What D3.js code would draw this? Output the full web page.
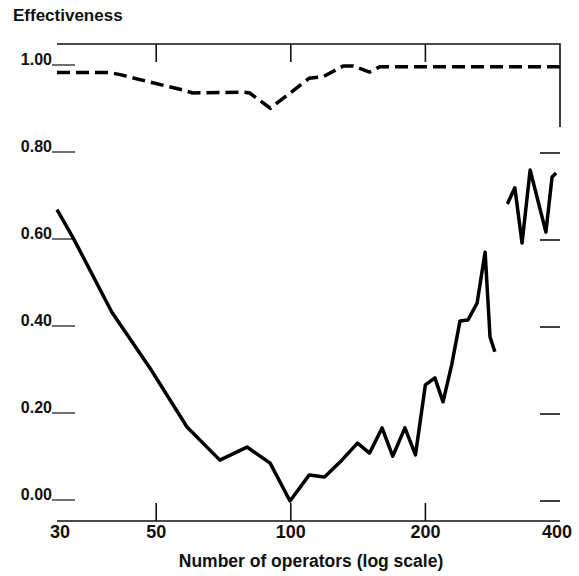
<!DOCTYPE html>
<html>
<head>
<meta charset="utf-8">
<script src="https://cdn.jsdelivr.net/npm/d3@7"></script>
<style>
  body { margin: 0; background: #fff; }
  text { font-family: "Liberation Sans", Arial, sans-serif; font-weight: bold; fill: #111; }
</style>
</head>
<body>
<svg></svg>
<script>
// upper dashed curve
const upperN   = [30, 39.4, 42, 48.4, 57.3, 60.3, 78.2, 80.9, 90, 110, 118, 131, 138, 150, 158, 400];
const upperEff = [0.985, 0.985, 0.979, 0.963, 0.945, 0.938, 0.940, 0.938, 0.903, 0.972, 0.975, 1.0, 1.0, 0.986, 0.998, 0.998];

// lower solid curve, first piece
const lowerN   = [30, 32.6, 39.8, 48.4, 58.6, 69.4, 79.8, 89.9, 99.6, 110, 119, 129, 141, 150, 160, 169, 180, 190, 200, 210, 219, 229, 239, 249, 261, 272, 279, 286];
const lowerEff = [0.67, 0.605, 0.434, 0.306, 0.17, 0.094, 0.124, 0.087, 0.0, 0.06, 0.055, 0.09, 0.133, 0.11, 0.168, 0.103, 0.168, 0.106, 0.267, 0.283, 0.228, 0.313, 0.414, 0.416, 0.455, 0.572, 0.377, 0.343];

// lower solid curve, second piece (after the gap)
const lowerN2   = [305, 317, 329, 343, 372, 384, 392];
const lowerEff2 = [0.683, 0.72, 0.593, 0.761, 0.618, 0.745, 0.754];

const xTicks = [30, 50, 100, 200, 400];
const xInner = [50, 100, 200];
const yTicks = [0, 0.2, 0.4, 0.6, 0.8, 1.0];
const yLabels = ["0.00", "0.20", "0.40", "0.60", "0.80", "1.00"];

const width = 579, height = 576;
const plotLeft = 57, plotRight = 560, plotTop = 44, plotBottom = 521;

const svg = d3.select('svg')
    .attr('width', width)
    .attr('height', height);

const x = d3.scaleLog().domain([30, 400]).range([plotLeft, plotRight]);
const y = d3.scaleLinear().domain([0, 1]).range([501, 66]);

const line = d3.line()
    .x(d => x(d[0]))
    .y(d => y(d[1]));

// frame: top, bottom and the short right piece
svg.append('path')
    .attr('d', `M${plotLeft},${plotTop}H${plotRight}V127M${plotLeft},${plotBottom}H${plotRight}`)
    .attr('fill', 'none')
    .attr('stroke', '#111')
    .attr('stroke-width', 1.6);

// ticks on top (pointing down) and bottom (pointing up)
svg.append('g')
    .selectAll('line')
    .data(xInner)
    .enter()
    .append('line')
    .attr('x1', d => x(d)).attr('x2', d => x(d))
    .attr('y1', plotTop).attr('y2', plotTop + 18)
    .attr('stroke', '#111').attr('stroke-width', 1.6);

svg.append('g')
    .selectAll('line')
    .data(xInner)
    .enter()
    .append('line')
    .attr('x1', d => x(d)).attr('x2', d => x(d))
    .attr('y1', plotBottom).attr('y2', plotBottom - 18)
    .attr('stroke', '#111').attr('stroke-width', 1.6);

// x tick labels
svg.append('g')
    .selectAll('text')
    .data(xTicks)
    .enter()
    .append('text')
    .attr('x', (d, i) => x(d) + (i == 0 ? 3 : (i == xTicks.length - 1 ? -3 : 0)))
    .attr('y', 538)
    .attr('text-anchor', 'middle')
    .style('font-size', '18px')
    .text(d => d);

// y ticks: label + short mark on the left, short mark on the right
svg.append('g')
    .selectAll('text')
    .data(yTicks)
    .enter()
    .append('text')
    .attr('x', 52)
    .attr('y', d => y(d) - 1)
    .attr('text-anchor', 'end')
    .style('font-size', '16px')
    .text((d, i) => yLabels[i]);

svg.append('g')
    .selectAll('line')
    .data(yTicks)
    .enter()
    .append('line')
    .attr('x1', 52).attr('x2', 75)
    .attr('y1', d => y(d) - 1).attr('y2', d => y(d) - 1)
    .attr('stroke', '#222').attr('stroke-width', 1.3);

svg.append('g')
    .selectAll('line')
    .data(yTicks.filter(d => d < 1))
    .enter()
    .append('line')
    .attr('x1', 540).attr('x2', plotRight)
    .attr('y1', d => y(d)).attr('y2', d => y(d))
    .attr('stroke', '#111').attr('stroke-width', 1.6);

// curves
svg.append('path')
    .attr('d', line(d3.zip(upperN, upperEff)))
    .attr('fill', 'none')
    .attr('stroke', '#000')
    .attr('stroke-width', 3.5)
    .attr('stroke-dasharray', '13,6');

[d3.zip(lowerN, lowerEff), d3.zip(lowerN2, lowerEff2)].forEach(pts => {
    svg.append('path')
        .attr('d', line(pts))
        .attr('fill', 'none')
        .attr('stroke', '#000')
        .attr('stroke-width', 3.5)
        .attr('stroke-linejoin', 'round');
});

// titles
svg.append('text')
    .attr('x', 13)
    .attr('y', 21)
    .style('font-size', '17px')
    .text('Effectiveness');

svg.append('text')
    .attr('x', 311)
    .attr('y', 567)
    .attr('text-anchor', 'middle')
    .style('font-size', '17.5px')
    .text('Number of operators (log scale)');
</script>
</body>
</html>
